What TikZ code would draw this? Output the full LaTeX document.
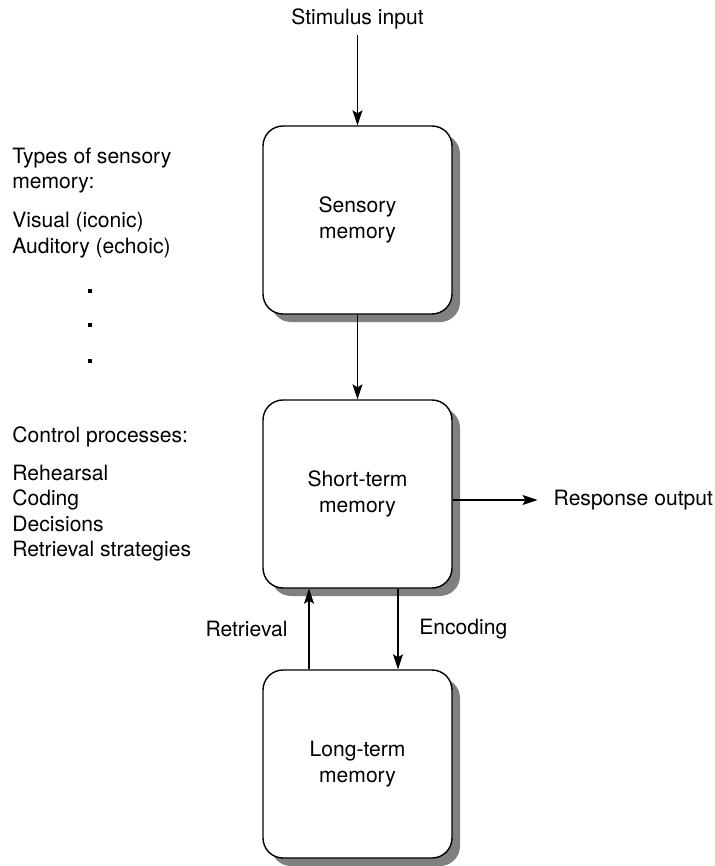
\documentclass[tikz,border=0pt]{standalone}
\usepackage{fontspec}
\setmainfont{TeX Gyre Heros}
\usetikzlibrary{arrows.meta,shadows,positioning}
\tikzset{
  memory/.style={
    draw,
    fill=white,
    line width=0.8pt,
    rounded corners=0.4cm,
    minimum width=3.78cm,
    minimum height=3.76cm,
    align=center,
    drop shadow={shadow xshift=0.16cm, shadow yshift=-0.16cm,
      fill=black!50, opacity=1}
  },
  flow/.style={
    -{Stealth[length=0.3cm,width=0.2cm,inset=0.06cm]},
    line width=0.6pt
  },
  sidetext/.style={
    anchor=north west,
    align=left,
    inner sep=0pt
  },
  every picture/.style={
    font=\fontsize{12}{14.5}\selectfont
  }
}
\begin{document}
\begin{tikzpicture}
  \useasboundingbox (0,0) rectangle (14.3,-17.32);
  % boxes
  \node[memory] (sensory) at (7.15,-4.40) {Sensory\\memory};
  \node[memory] (shortterm) at (7.15,-9.88) {Short-term\\memory};
  \node[memory] (longterm) at (7.15,-15.28) {Long-term\\memory};
  % in and out
  \node (stimulus) at (7.15,-0.37) {Stimulus input};
  \node[anchor=west] (response) at (10.95,-10.0) {Response output};
  \draw[flow] (stimulus) -- (sensory);
  \draw[flow] (sensory) -- (shortterm);
  \draw[flow,shorten >=0.2cm] (shortterm.east |- response.west) -- (response.west);
  \draw[flow] ([xshift=-0.97cm]longterm.north) -- ([xshift=-0.97cm]shortterm.south)
    node[midway,left=0.3cm] {Retrieval};
  \draw[flow] ([xshift=0.81cm]shortterm.south) -- ([xshift=0.81cm]longterm.north)
    node[midway,right=0.3cm] {Encoding};
  % side notes
  \node[sidetext] (types) at (0.24,-2.95) {Types of sensory\\memory:};
  \node[sidetext,below=0.37cm of types.south west,anchor=north west] (kinds)
    {Visual (iconic)\\Auditory (echoic)};
  \foreach \y in {5.77,6.45,7.17}
    \fill (1.75,-\y) rectangle ++(0.08,-0.08);
  \node[sidetext] (control) at (0.24,-8.52) {Control processes:};
  \node[sidetext,below=0.35cm of control.south west,anchor=north west] (steps)
    {Rehearsal\\Coding\\Decisions\\Retrieval strategies};
\end{tikzpicture}
\end{document}
